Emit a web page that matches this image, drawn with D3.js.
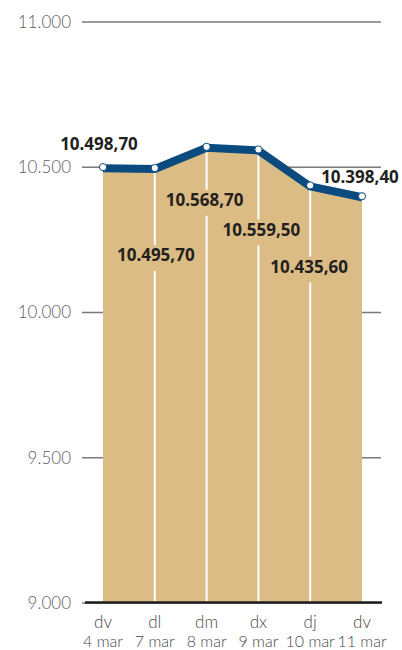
<!DOCTYPE html>
<html><head><meta charset="utf-8">
<script src="https://cdn.jsdelivr.net/npm/d3@7"></script>
<style>
html,body{margin:0;padding:0;background:#fff;}
svg{display:block;font-family:"Noto Sans","Open Sans",sans-serif;}
.light{font-family:Lato,"Noto Sans",sans-serif;font-weight:300;}
</style></head>
<body>
<svg id="c" width="402" height="650"></svg>
<script>
const days = ["dv","dl","dm","dx","dj","dv"];
const dates = ["4 mar","7 mar","8 mar","9 mar","10 mar","11 mar"];
const values = [10498.70, 10495.70, 10568.70, 10559.50, 10435.60, 10398.40];
const valueLabels = ["10.498,70","10.495,70","10.568,70","10.559,50","10.435,60","10.398,40"];
const yTicks = [9000, 9500, 10000, 10500, 11000];
const yTickLabels = ["9.000","9.500","10.000","10.500","11.000"];
// label placement offsets (dx, dy from point)
const labelPos = [[-4,-29],[1,81],[-2,47],[3,74],[-1,75],[-2,-25]];

const svg = d3.select("#c");
const x = d3.scalePoint().domain(d3.range(values.length)).range([103, 362]);
const y = d3.scaleLinear().domain([9000, 11000]).range([602.5, 21.5]);

// gridlines
const yAxis = d3.axisLeft(y).tickValues(yTicks).tickSize(-299).tickFormat((d,i)=>yTickLabels[i]).tickPadding(11);
const ga = svg.append("g").attr("transform","translate(82,0)").call(yAxis);
ga.select(".domain").remove();
ga.selectAll(".tick line").attr("stroke","#7a7a7a").attr("stroke-width",1.5);
ga.selectAll(".tick text").attr("class","light").attr("fill","#5e5e5e").attr("font-size",17).attr("dy","0.35em");

// area
const area = d3.area().x((d,i)=>x(i)).y0(y(9000)).y1(d=>y(d));
svg.append("path").datum(values).attr("d",area).attr("fill","#dbbc84");

// white verticals
svg.selectAll("line.v").data(values.slice(1,-1)).enter().append("line")
  .attr("x1",(d,i)=>x(i+1)).attr("x2",(d,i)=>x(i+1))
  .attr("y1",d=>y(d)).attr("y2",y(9000))
  .attr("stroke","#fff").attr("stroke-width",2);

// baseline
svg.append("line").attr("x1",85).attr("x2",382).attr("y1",y(9000)).attr("y2",y(9000))
  .attr("stroke","#1e1e1e").attr("stroke-width",2.5);

// line
const line = d3.line().x((d,i)=>x(i)).y(d=>y(d)+1);
svg.append("path").datum(values).attr("d",line).attr("fill","none")
  .attr("stroke","#0b4a7e").attr("stroke-width",8).attr("stroke-linejoin","round");

svg.selectAll("circle.p").data(values).enter().append("circle")
  .attr("cx",(d,i)=>x(i)).attr("cy",d=>y(d)).attr("r",3.6)
  .attr("fill","#fff").attr("stroke","#0b4a7e").attr("stroke-width",1);

// value labels
const lg = svg.append("g");
values.forEach((v,i)=>{
  const cx = x(i)+labelPos[i][0], cy = y(v)+labelPos[i][1];
  const inside = (i>0 && i<values.length-1);
  if(inside){
    lg.append("rect").attr("x",cx-42).attr("y",cy-4).attr("width",84).attr("height",26).attr("fill","#dbbc84");
  }
  lg.append("text").attr("x",cx).attr("y",cy)
    .attr("dy","0.71em").attr("text-anchor","middle")
    .attr("font-size",17).attr("font-weight",700).attr("fill","#231f20").text(valueLabels[i]);
});

// x labels
const xl = svg.append("g");
values.forEach((v,i)=>{
  xl.append("text").attr("class","light").attr("x",x(i)).attr("y",628).attr("text-anchor","middle")
    .attr("font-size",17).attr("fill","#4a4a4a").text(days[i]);
  xl.append("text").attr("class","light").attr("x",x(i)).attr("y",647).attr("text-anchor","middle")
    .attr("font-size",16).attr("fill","#4a4a4a").text(dates[i]);
});
</script>
</body></html>
